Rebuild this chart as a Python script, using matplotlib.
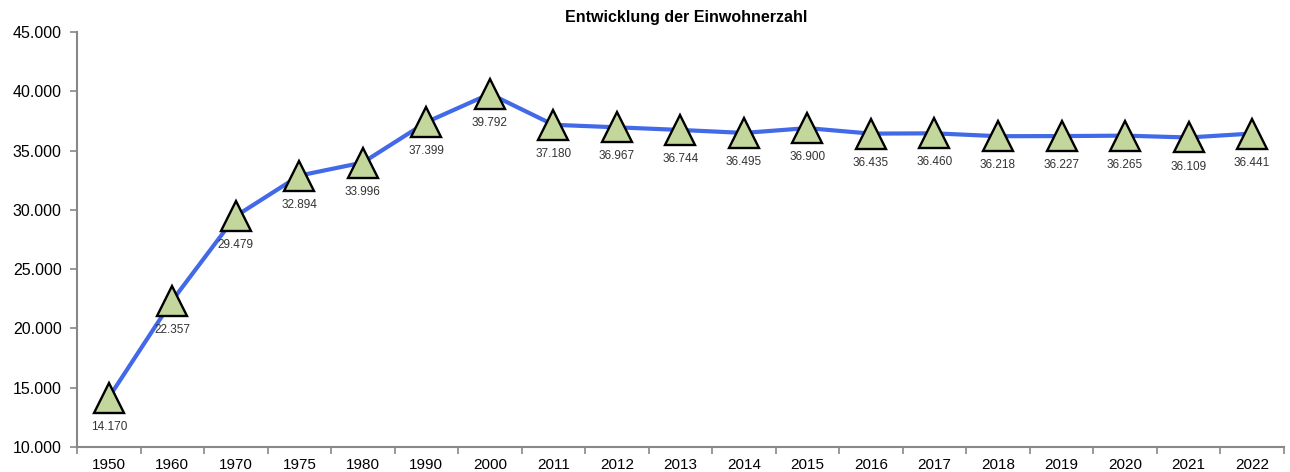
import matplotlib
matplotlib.use("Agg")
import matplotlib.pyplot as plt
from matplotlib.ticker import FuncFormatter, FixedLocator

plt.rcParams['font.family'] = ['Liberation Sans', 'DejaVu Sans']

jahre = ["1950", "1960", "1970", "1975", "1980", "1990", "2000", "2011", "2012", "2013",
         "2014", "2015", "2016", "2017", "2018", "2019", "2020", "2021", "2022"]
einwohner = [14170, 22357, 29479, 32894, 33996, 37399, 39792, 37180, 36967, 36744,
             36495, 36900, 36435, 36460, 36218, 36227, 36265, 36109, 36441]


def punkt(v):
    return f"{int(v):,}".replace(",", ".")


fig = plt.figure(figsize=(12.9, 4.72), dpi=100)
ax = fig.add_axes([0.0597, 0.053, 0.9355, 0.879])

x = list(range(len(jahre)))
ax.plot(x, einwohner, color="#4169e8", lw=3, zorder=2)
ax.plot(x, einwohner, ls="none", marker="^", ms=22, mfc="#c3d69b", mec="black", mew=1.7, zorder=3)

for xi, v in zip(x, einwohner):
    ax.annotate(punkt(v), (xi, v), xytext=(0, -21), textcoords="offset points",
                ha="center", va="center", fontsize=8.5, color="#333333")

ax.set_xlim(-0.5, len(jahre) - 0.5)
ax.set_ylim(10000, 45000)
ax.set_yticks(range(10000, 45001, 5000))
ax.yaxis.set_major_formatter(FuncFormatter(lambda v, p: punkt(v)))
ax.set_xticks(x)
ax.set_xticklabels(jahre)
ax.xaxis.set_minor_locator(FixedLocator([i - 0.5 for i in range(len(jahre) + 1)]))
ax.tick_params(axis="x", which="major", length=0, labelsize=11, pad=8)
ax.tick_params(axis="x", which="minor", length=5, color="#888888", width=1.2)
ax.tick_params(axis="y", length=5, color="#888888", width=1.2, labelsize=11.5, pad=6)

for s in ["top", "right"]:
    ax.spines[s].set_visible(False)
for s in ["left", "bottom"]:
    ax.spines[s].set_color("#888888")
    ax.spines[s].set_linewidth(1.5)

fig.text(0.532, 0.962, "Entwicklung der Einwohnerzahl", ha="center", va="center",
         fontsize=11.5, fontweight="bold")

fig.savefig("out.png", dpi=100)
